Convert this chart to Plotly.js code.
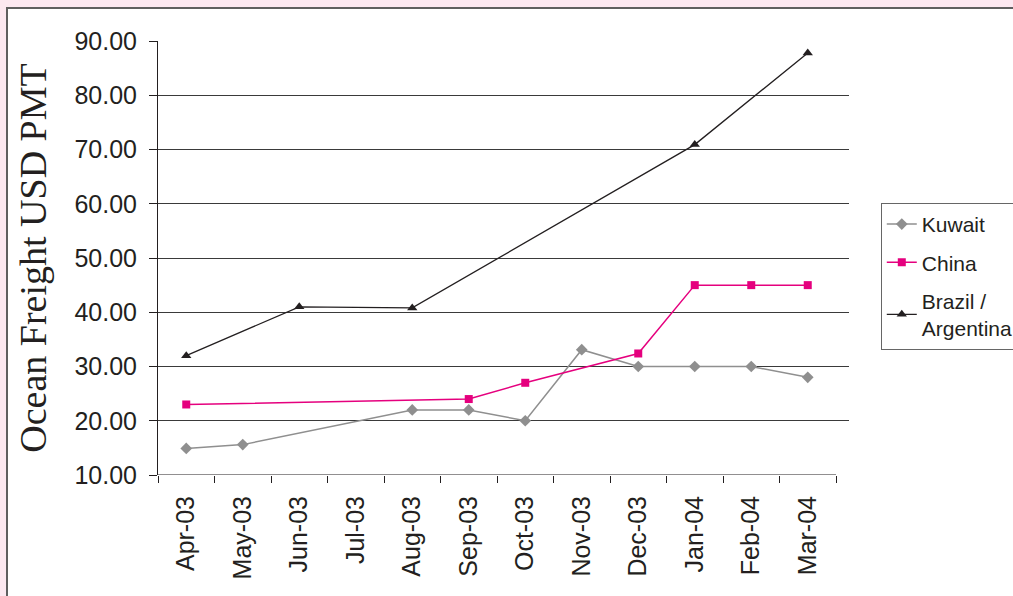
<!DOCTYPE html>
<html>
<head>
<meta charset="utf-8">
<script src="https://cdn.plot.ly/plotly-3.0.1.min.js"></script>
<style>
html,body{margin:0;padding:0;background:#fce8f0;overflow:hidden;}
#panel{position:absolute;left:6px;top:7px;width:1100px;height:700px;background:#fff;border:2px solid #5f5f5f;box-sizing:border-box;}
#chart{position:absolute;left:0;top:0;width:1013px;height:596px;}
</style>
</head>
<body>
<div id="panel"></div>
<div id="chart"></div>
<script>
const months = ["Apr-03","May-03","Jun-03","Jul-03","Aug-03","Sep-03","Oct-03","Nov-03","Dec-03","Jan-04","Feb-04","Mar-04"];
const kuwait = [14.9, 15.6, null, null, 22.0, 22.0, 20.0, 33.1, 30.0, 30.0, 30.0, 28.0];
const china  = [23.0, null, null, null, null, 24.0, 27.0, null, 32.4, 45.0, 45.0, 45.0];
const brazil = [32.0, null, 41.0, null, 40.8, null, null, null, null, 70.9, null, 87.8];

const traces = [
  {x: months, y: kuwait, name: "Kuwait", legendgroup: "a", type: "scatter", mode: "lines+markers", connectgaps: true,
   line: {color: "#8f8f8f", width: 1.5}, marker: {symbol: "diamond", size: 9, color: "#8f8f8f"}},
  {x: months, y: china, name: "China", legendgroup: "b", type: "scatter", mode: "lines+markers", connectgaps: true,
   line: {color: "#e5007e", width: 1.5}, marker: {symbol: "square", size: 8, color: "#e5007e"}},
  {x: months, y: brazil, name: "Brazil /<br>Argentina", legendgroup: "c", type: "scatter", mode: "lines+markers", connectgaps: true,
   line: {color: "#231f20", width: 1.3}, marker: {symbol: "triangle-up", size: 9, color: "#231f20"}}
];

const layout = {
  width: 1013, height: 596,
  paper_bgcolor: "rgba(0,0,0,0)", plot_bgcolor: "rgba(0,0,0,0)",
  margin: {l: 158, r: 164, t: 41, b: 121, autoexpand: false},
  font: {family: "Liberation Sans, Arial, sans-serif", color: "#231f20"},
  showlegend: true,
  legend: {x: 1.046, xanchor: "left", y: 0.627, yanchor: "top",
           bordercolor: "#666", borderwidth: 1, bgcolor: "#fff",
           font: {size: 21, color: "#231f20"}, tracegroupgap: 8, itemsizing: "trace"},
  xaxis: {type: "category", categoryorder: "array", categoryarray: months,
          range: [-0.5, 11.73], tickson: "boundaries", ticks: "outside", ticklen: 7,
          tickcolor: "#231f20", tickangle: -90, showgrid: false, showline: false, zeroline: false,
          tickfont: {size: 25, color: "#231f20"}, ticklabelstandoff: 15, fixedrange: true},
  yaxis: {range: [10, 90], dtick: 10, tickformat: ".2f", ticks: "outside", ticklen: 8,
          tickcolor: "#231f20", showline: true, linecolor: "#231f20", linewidth: 1,
          showgrid: true, gridcolor: "#3a3a3a", gridwidth: 1, zeroline: false,
          tickfont: {size: 25, color: "#231f20"}, ticklabelstandoff: 7,
          title: {text: "Ocean Freight USD PMT", font: {family: "Liberation Serif, Times New Roman, serif", size: 38, color: "#231f20"}, standoff: 16}},
  shapes: [
    {type: "line", xref: "x", yref: "y", x0: -0.5, x1: 11.5, y0: 10, y1: 10, line: {color: "#231f20", width: 1}}
  ]
};

Plotly.newPlot("chart", traces, layout, {displayModeBar: false, staticPlot: true});
</script>
</body>
</html>
